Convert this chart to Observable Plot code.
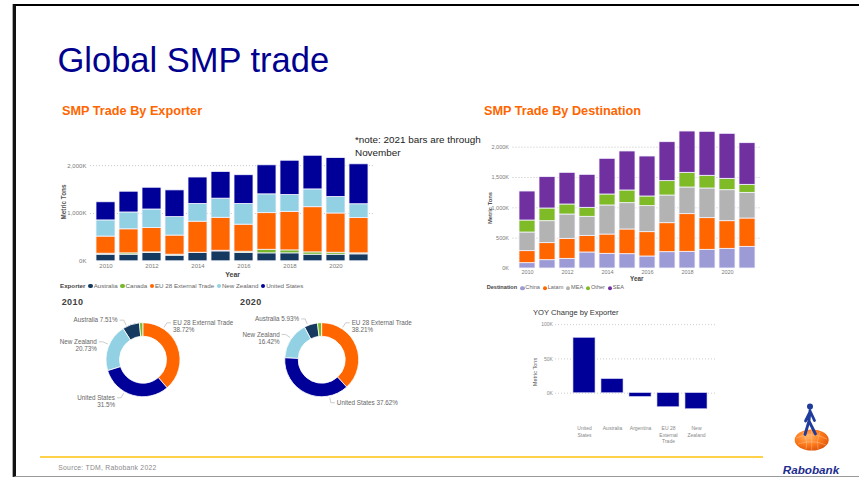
<!DOCTYPE html>
<html><head><meta charset="utf-8">
<script src="https://cdn.jsdelivr.net/npm/d3@7"></script>
<script src="https://cdn.jsdelivr.net/npm/@observablehq/plot@0.6"></script>
<style>
body{margin:0;background:#fff;}
#slide{position:relative;width:859px;height:479px;overflow:hidden;background:#fff;font-family:"Liberation Sans",Arial,sans-serif;}
.abs{position:absolute;white-space:nowrap;line-height:1;}
#frame{position:absolute;left:13px;top:4px;width:860px;height:469.5px;border-top:2.5px solid #000;border-left:3px solid #111;border-bottom:1.5px solid #9a9a9a;box-shadow:-1px 0 0 #aaa;}
.leg{position:absolute;display:flex;align-items:center;white-space:nowrap;line-height:1;}
.leg .dot{display:inline-block;border-radius:50%;}
</style></head>
<body><div id="slide"><div id="frame"></div></div>
<script>
// ---------------- DATA ----------------
const years = [2010,2011,2012,2013,2014,2015,2016,2017,2018,2019,2020,2021];
const yearTicks = [2010,2012,2014,2016,2018,2020];

const exporters = ["Australia","Canada","EU 28 External Trade","New Zealand","United States"];
const exporterColors = ["#163a5f","#77b82a","#ff6600","#91d1e3","#000099"];
const australia    = [138,138,172,117,172,207,172,166,166,138,138,145];
const canada       = [21,28,14,21,7,14,28,75,62,48,41,21];
const eu28         = [358,503,511,400,649,689,566,766,806,945,821,737];
const newZealand   = [338,352,386,386,372,400,434,393,352,372,345,290];
const unitedStates = [379,434,455,559,552,559,600,607,717,704,814,835];
const exporterTicks = [0,1000,2000];

const destinations = ["China","Latam","MEA","Other","SEA"];
const destinationColors = ["#9d9bd6","#ff6600","#b3b3b3","#7fba27","#7030a0"];
const china = [88,137,159,264,242,236,198,269,275,308,324,357];
const latam = [198,281,330,274,318,407,401,478,621,522,456,467];
const mea   = [307,362,401,314,479,434,429,456,439,489,511,423];
const other = [198,209,165,148,181,209,159,237,242,209,187,132];
const sea   = [478,517,522,544,588,643,659,642,681,725,742,687];
const destinationTicks = [0,500,1000,1500,2000];

// donut shares (%), in exporter order
const share2010 = [7.51,1.54,38.72,20.73,31.5];
const share2020 = [5.93,1.82,38.21,16.42,37.62];

const yoyExporters = ["United States","Australia","Argentina","EU 28 External Trade","New Zealand"];
const yoyTickLabels = ["United\nStates","Australia","Argentina","EU 28\nExternal\nTrade","New\nZealand"];
const yoyValues = [80.6,20.4,-5.3,-20.4,-23.3];
const yoyTicks = [0,50,100];

// ---------------- HELPERS ----------------
const slide = document.getElementById("slide");
const FONT = '"Liberation Sans", Arial, sans-serif';
function txt(text, x, y, css = {}, ax = 0, rot = 0) {
  const d = document.createElement("div");
  d.className = "abs"; d.textContent = text;
  Object.assign(d.style, {left: x + "px", top: y + "px",
    transform: `translate(${-ax*100}%, -50%)` + (rot ? ` rotate(${rot}deg)` : "")}, css);
  slide.appendChild(d); return d;
}
function place(node, left, top) {
  node.style.position = "absolute"; node.style.left = left + "px"; node.style.top = top + "px";
  slide.appendChild(node);
}
function legend(title, names, colors, x, y, fs) {
  const d = document.createElement("div"); d.className = "leg";
  d.style.left = x + "px"; d.style.top = y + "px"; d.style.transform = "translateY(-50%)";
  d.style.fontSize = fs + "px"; d.style.color = "#666";
  const t = document.createElement("span"); t.textContent = title;
  t.style.fontWeight = "bold"; t.style.color = "#444"; t.style.marginRight = "3px";
  d.appendChild(t);
  names.forEach((n, i) => {
    const dot = document.createElement("span"); dot.className = "dot";
    Object.assign(dot.style, {width: "4.4px", height: "4.4px", background: colors[i], marginRight: "0.8px"});
    const s = document.createElement("span"); s.textContent = n; s.style.marginRight = "2.6px";
    d.appendChild(dot); d.appendChild(s);
  });
  slide.appendChild(d);
}
const kfmt = d => d3.format(",")(d) + "K";
const yfmt = d => String(d);

// ---------------- STATIC TEXT ----------------
txt("Global SMP trade", 57.5, 59.5, {fontSize: "34.5px", color: "#00008f", fontFamily: FONT});
txt("SMP Trade By Exporter", 62, 110.7, {fontSize: "12.7px", fontWeight: "bold", color: "#ff6600"});
txt("SMP Trade By Destination", 484, 110.7, {fontSize: "12.7px", fontWeight: "bold", color: "#ff6600"});
txt("*note: 2021 bars are through", 355, 139.8, {fontSize: "9.9px", color: "#222"});
txt("November", 355, 152.8, {fontSize: "9.9px", color: "#222"});

// ---------------- EXPORTER BARS ----------------
const exporterSeries = [australia, canada, eu28, newZealand, unitedStates];
const exporterRows = years.flatMap((yr, i) => exporters.map((e, j) => ({year: yr, exporter: e, value: exporterSeries[j][i]})));
const chart1 = Plot.plot({
  width: 400, height: 145,
  marginLeft: 86.9, marginRight: 22.1, marginTop: 10.8, marginBottom: 24.2,
  x: {type: "band", domain: years, padding: 0.18, label: null},
  y: {domain: [0, 2300], label: null},
  color: {domain: exporters, range: exporterColors},
  style: {fontFamily: FONT, fontSize: "6px", color: "#7a7a7a", background: "transparent", overflow: "visible"},
  marks: [
    Plot.ruleY([1000, 2000], {stroke: "#c4c4c4", strokeDasharray: "1,2", insetLeft: 3, insetRight: 3}),
    Plot.barY(exporterRows, Plot.stackY({x: "year", y: "value", fill: "exporter", order: exporters, stroke: "#f4f4ff", strokeWidth: 0.8})),
    Plot.axisY(exporterTicks, {tickSize: 0, tickPadding: 1, tickFormat: kfmt, label: null}),
    Plot.axisX(yearTicks, {tickSize: 0, tickPadding: 2, tickFormat: yfmt, label: null})
  ]
});
place(chart1, 0, 140);
txt("Metric Tons", 63.5, 202, {fontSize: "6.3px", fontWeight: "bold", color: "#555"}, 0.5, -90);
txt("Year", 232.7, 274.3, {fontSize: "7px", fontWeight: "bold", color: "#444"}, 0.5);
legend("Exporter", exporters, exporterColors, 60, 285.7, 6.2);

// ---------------- DESTINATION BARS ----------------
const destinationSeries = [china, latam, mea, other, sea];
const destinationRows = years.flatMap((yr, i) => destinations.map((e, j) => ({year: yr, destination: e, value: destinationSeries[j][i]})));
const chart2 = Plot.plot({
  width: 310, height: 165,
  marginLeft: 40.45, marginRight: 16.7, marginTop: 7.4, marginBottom: 12,
  x: {type: "band", domain: years, padding: 0.18, label: null},
  y: {domain: [0, 2400], label: null},
  color: {domain: destinations, range: destinationColors},
  style: {fontFamily: FONT, fontSize: "5.5px", color: "#7a7a7a", background: "transparent", overflow: "visible"},
  marks: [
    Plot.ruleY([500, 1000, 1500, 2000], {stroke: "#c4c4c4", strokeDasharray: "1,2", insetLeft: 2, insetRight: 2}),
    Plot.barY(destinationRows, Plot.stackY({x: "year", y: "value", fill: "destination", order: destinations, stroke: "#f4f4ff", strokeWidth: 0.8})),
    Plot.axisY(destinationTicks, {tickSize: 0, tickPadding: 2, tickFormat: kfmt, label: null}),
    Plot.axisX(yearTicks, {tickSize: 0, tickPadding: 1.8, tickFormat: yfmt, label: null})
  ]
});
place(chart2, 470, 115);
txt("Metric Tons", 490.7, 207.5, {fontSize: "5.8px", fontWeight: "bold", color: "#555"}, 0.5, -90);
txt("Year", 636.7, 279.3, {fontSize: "6.3px", fontWeight: "bold", color: "#444"}, 0.5);
legend("Destination", destinations, destinationColors, 486.7, 288.3, 5.6);

// ---------------- DONUTS ----------------
const exporterColor = d3.scaleOrdinal(exporters, exporterColors);
const donutLayout = {
  2010: {"EU 28 External Trade": {angle: 33, lines: 2}, "United States": {angle: 210, lines: 2}, "New Zealand": {angle: 294, lines: 2}, "Australia": {angle: 334, lines: 1}},
  2020: {"EU 28 External Trade": {angle: 33, lines: 2}, "United States": {angle: 168, lines: 1}, "New Zealand": {angle: 305, lines: 2}, "Australia": {angle: 338, lines: 1}}
};
const R_OUT = 37, R_IN = 23.5;
function donutMark(shares, layout, cx, cy) {
  return () => {
    const g = d3.create("svg:g");
    const rows = exporters.map((e, i) => ({exporter: e, value: shares[i]}));
    const arcs = d3.pie().value(d => d.value).startAngle(0).endAngle(2 * Math.PI)(rows);
    const arc = d3.arc().innerRadius(R_IN).outerRadius(R_OUT);
    g.append("g").attr("transform", `translate(${cx},${cy})`)
      .selectAll("path").data(arcs).join("path")
      .attr("d", arc).attr("fill", d => exporterColor(d.data.exporter))
      .attr("stroke", "#fff").attr("stroke-width", 0.8);
    const polar = (deg, r) => [cx + r * Math.sin(deg * Math.PI / 180), cy - r * Math.cos(deg * Math.PI / 180)];
    rows.forEach(row => {
      const L = layout[row.exporter]; if (!L) return;
      const right = Math.sin(L.angle * Math.PI / 180) > 0;
      const p0 = polar(L.angle, R_OUT + 1.5), p1 = polar(L.angle, R_OUT + 7);
      const p2 = [p1[0] + (right ? 4 : -4), p1[1]];
      g.append("path").attr("d", `M${p0}L${p1}L${p2}`).attr("fill", "none").attr("stroke", "#aaa").attr("stroke-width", 0.6);
      const t = g.append("text").attr("x", p2[0] + (right ? 2 : -2)).attr("y", p2[1])
        .attr("text-anchor", right ? "start" : "end").attr("fill", "#666").attr("font-size", 6.3);
      const pct = row.value + "%";
      if (L.lines === 2) {
        t.append("tspan").attr("x", p2[0] + (right ? 2 : -2)).attr("dy", "0.35em").text(row.exporter);
        t.append("tspan").attr("x", p2[0] + (right ? 2 : -2)).attr("dy", "1.1em").text(pct);
      } else {
        t.append("tspan").attr("dy", "0.35em").text(row.exporter + " " + pct);
      }
    });
    return g.node();
  };
}
function donut(shares, layout, cx, cy) {
  return Plot.plot({
    width: 200, height: 115, margin: 0,
    style: {fontFamily: FONT, background: "transparent", overflow: "visible"},
    marks: [donutMark(shares, layout, cx, cy)]
  });
}
place(donut(share2010, donutLayout[2010], 93, 59.7), 50, 300);
place(donut(share2020, donutLayout[2020], 91.7, 59.7), 230, 300);
txt("2010", 61.7, 302.3, {fontSize: "9px", fontWeight: "bold", color: "#404040", letterSpacing: "0.4px"});
txt("2020", 240, 302.3, {fontSize: "9px", fontWeight: "bold", color: "#404040", letterSpacing: "0.4px"});

// ---------------- YOY ----------------
const yoyRows = yoyExporters.map((e, i) => ({exporter: e, value: yoyValues[i]}));
const chart3 = Plot.plot({
  width: 210, height: 135,
  marginLeft: 45.4, marginRight: 15.3, marginTop: 5.7, marginBottom: 33.3,
  x: {domain: yoyExporters, padding: 0.21, label: null},
  y: {domain: [-35, 105], label: null},
  style: {fontFamily: FONT, fontSize: "5px", color: "#888", background: "transparent", overflow: "visible"},
  marks: [
    Plot.ruleY(yoyTicks, {stroke: "#cfcfcf", strokeDasharray: "1,2", insetLeft: -10.4, insetRight: -2.3}),
    Plot.barY(yoyRows, {x: "exporter", y: "value", fill: "#000099", stroke: "#c8c8f0", strokeWidth: 0.6}),
    Plot.axisY(yoyTicks, {tickSize: 0, tickPadding: 13, tickFormat: d => d + "K", label: null}),
    Plot.axisX(yoyExporters, {tickSize: 0, tickPadding: 8, lineHeight: 1.33, label: null, tickFormat: d => yoyTickLabels[yoyExporters.indexOf(d)]})
  ]
});
place(chart3, 520, 315);
txt("YOY Change by Exporter", 533, 313, {fontSize: "7.6px", color: "#333"});
txt("Metric Tons", 536, 372, {fontSize: "5.6px", color: "#555"}, 0.5, -90);

// ---------------- FOOTER ----------------
const bar = document.createElement("div");
Object.assign(bar.style, {position: "absolute", left: "39.5px", top: "456.2px", width: "723px", height: "2.2px", background: "#ffd24a"});
slide.appendChild(bar);
txt("Source: TDM, Rabobank 2022", 58.3, 468.3, {fontSize: "6.8px", color: "#8a8a8a", letterSpacing: "0.25px"});

// logo
const ns = "http://www.w3.org/2000/svg";
const logo = document.createElementNS(ns, "svg");
logo.setAttribute("width", 80); logo.setAttribute("height", 84);
logo.innerHTML = `
<defs><radialGradient id="gl" cx="40%" cy="35%" r="70%"><stop offset="0" stop-color="#ffb366"/><stop offset="0.55" stop-color="#ff7a1a"/><stop offset="1" stop-color="#d9530a"/></radialGradient></defs>
<ellipse cx="36.7" cy="45" rx="17" ry="10.5" fill="url(#gl)"/>
<path d="M21 43 Q36 36 52 44 M23 49 Q37 44 51 50 M36.7 35 L36.7 55 M28 37 Q33 46 31 54 M45 37 Q41 46 43 54" fill="none" stroke="#ffd0a8" stroke-width="0.5" opacity="0.8"/>
<circle cx="35" cy="11.5" r="3" fill="#1f3b9b"/>
<path d="M35 15.5 L34 26 M35 17 L30.5 26 M35.5 17 L39.5 25.5 M34 26 L30 39.5 M34 26 L40.5 39" fill="none" stroke="#1f3b9b" stroke-width="2.8" stroke-linecap="round"/>
<text x="7.7" y="79" font-family='${FONT}' font-size="11.7" font-weight="bold" font-style="italic" fill="#1e2d8f">Rabobank</text>`;
place(logo, 775, 395);
</script></body></html>
